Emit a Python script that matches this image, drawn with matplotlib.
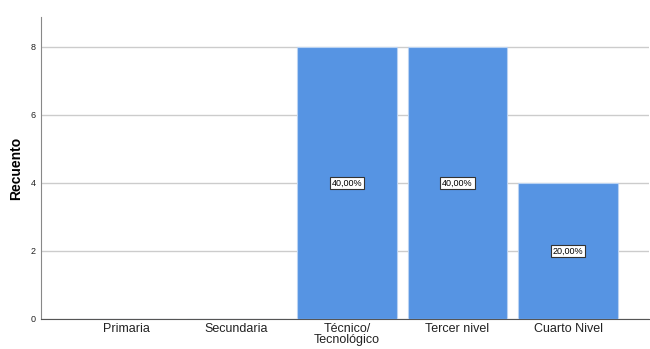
import matplotlib.pyplot as plt

categories = ["Primaria", "Secundaria", "Técnico/\nTecnológico", "Tercer nivel", "Cuarto Nivel"]
counts = [0, 0, 8, 8, 4]
percent_labels = ["", "", "40,00%", "40,00%", "20,00%"]

plt.rcParams['font.family'] = ['Liberation Sans', 'DejaVu Sans']

fig = plt.figure(figsize=(6.5, 3.49), dpi=100)
ax = fig.add_axes([0.063, 0.086, 0.935, 0.865])

x = range(len(categories))
bars = ax.bar(x, counts, width=0.9, color='#5694e3', edgecolor='#b9d2f2', linewidth=0.8, zorder=3)

for b, lab, c in zip(bars, percent_labels, counts):
    if lab:
        ax.text(b.get_x() + b.get_width() / 2, c / 2, lab, ha='center', va='center',
                fontsize=6.5, zorder=4,
                bbox=dict(boxstyle='square,pad=0.2', facecolor='white', edgecolor='#333333', linewidth=0.8))

ax.set_xlim(-0.77, 4.73)
ax.set_ylim(0, 8.87)
ax.set_yticks([0, 2, 4, 6, 8])
ax.set_xticks(list(x))
ax.set_xticklabels(categories, fontsize=9, color='#222222', linespacing=0.85)
ax.tick_params(axis='y', labelsize=6.5, length=0, pad=4, colors='#222222')
ax.tick_params(axis='x', length=0, pad=3)
ax.yaxis.grid(True, color='#cccccc', linewidth=1, zorder=0)
ax.set_axisbelow(True)
for s in ['top', 'right']:
    ax.spines[s].set_visible(False)
ax.spines['left'].set_color('#888888')
ax.spines['bottom'].set_color('#555555')
ax.set_ylabel("Recuento", fontsize=10, fontweight='bold', labelpad=5)

fig.savefig("out.png", dpi=100)
